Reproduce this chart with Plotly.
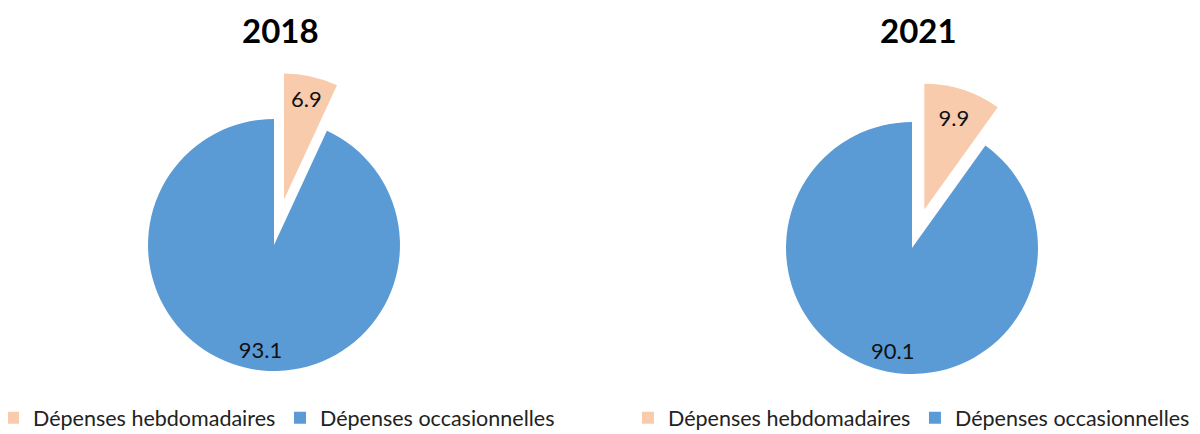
import plotly.graph_objects as go

categories = ["Dépenses hebdomadaires", "Dépenses occasionnelles"]
years = ["2018", "2021"]
values_2018 = [6.9, 93.1]
values_2021 = [9.9, 90.1]
colors = ["#F8CBAD", "#5B9BD5"]

FONT = "Lato"
W, H = 1192, 426  # page body has an 8px margin inside the 1200x434 window
# blank lines push the big slice's label towards the rim, as in the reference
label_templates = ["%{value}", "&nbsp;<br>&nbsp;<br>&nbsp;<br>%{value}"]

fig = go.Figure()

fig.add_trace(go.Pie(
    labels=categories, values=values_2018, sort=False, direction="clockwise",
    rotation=0, pull=[0.37, 0], marker=dict(colors=colors, line=dict(width=0)),
    texttemplate=label_templates, textposition="inside", insidetextorientation="horizontal",
    textfont=dict(family=FONT, size=22, color="#111111"),
    domain=dict(x=[0.07836, 0.36795], y=[0.0385, 0.8488]),
    legend="legend", legendgroup="y2018", hoverinfo="label+value",
))
fig.add_trace(go.Pie(
    labels=categories, values=values_2021, sort=False, direction="clockwise",
    rotation=0, pull=[0.32, 0], marker=dict(colors=colors, line=dict(width=0)),
    texttemplate=label_templates, textposition="inside", insidetextorientation="horizontal",
    textfont=dict(family=FONT, size=22, color="#111111"),
    domain=dict(x=[0.61887, 0.89790], y=[0.04624, 0.8270]),
    legend="legend2", legendgroup="y2021", hoverinfo="label+value",
))

legend_common = dict(orientation="h", yanchor="bottom", y=-0.01, xanchor="left",
                     font=dict(family=FONT, size=21.5, color="#222222"),
                     itemwidth=30, bgcolor="rgba(0,0,0,0)", tracegroupgap=0,
                     traceorder="normal", entrywidth=242, entrywidthmode="pixels")

fig.update_layout(
    width=W, height=H,
    margin=dict(l=0, r=0, t=0, b=0, autoexpand=False),
    paper_bgcolor="white", plot_bgcolor="white",
    legend=dict(x=-0.0126, **legend_common),
    legend2=dict(x=0.5201, **legend_common),
    annotations=[
        dict(text="<b>" + years[0] + "</b>", x=272 / W, y=1 - 22 / H, xref="paper", yref="paper",
             xanchor="center", yanchor="middle",
             showarrow=False, font=dict(family=FONT, size=33, color="#000000")),
        dict(text="<b>" + years[1] + "</b>", x=910 / W, y=1 - 22 / H, xref="paper", yref="paper",
             xanchor="center", yanchor="middle",
             showarrow=False, font=dict(family=FONT, size=33, color="#000000")),
    ],
)

fig.write_html("out.html")
